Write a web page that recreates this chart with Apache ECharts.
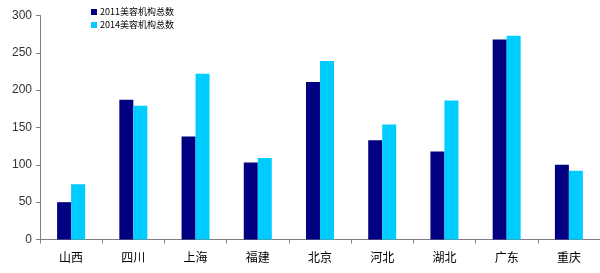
<!DOCTYPE html>
<html><head><meta charset="utf-8">
<script src="https://cdn.jsdelivr.net/npm/echarts@6/dist/echarts.min.js"></script>
<style>html,body{margin:0;padding:0;background:#fff}#c{width:600px;height:273px}</style>
</head><body><div id="c"></div>
<script>
var categories = ['山西','四川','上海','福建','北京','河北','湖北','广东','重庆'];
var series2011 = [50, 187, 138, 103, 211, 133, 118, 268, 100];
var series2014 = [74, 179, 222, 109, 239, 154, 186, 273, 92];
var yTicks = [0, 50, 100, 150, 200, 250, 300];
var names = ['2011美容机构总数', '2014美容机构总数'];

var chart = echarts.init(document.getElementById('c'));
chart.setOption({
  animation: false,
  grid: {left: 40, right: -6, top: 15.5, bottom: 33.5, containLabel: false},
  legend: {
    orient: 'vertical', left: 91, top: 7, itemWidth: 6, itemHeight: 6, itemGap: 3,
    icon: 'rect', padding: 0,
    textStyle: {fontSize: 9, lineHeight: 10, color: '#000', fontFamily: 'Noto Sans CJK SC', padding: [0,0,0,-2]},
    data: names
  },
  xAxis: {
    type: 'category', data: categories,
    axisLine: {lineStyle: {color: '#808080'}},
    axisTick: {show: true, length: 4, lineStyle: {color: '#808080'}},
    axisLabel: {fontSize: 12, color: '#000', margin: 12, fontFamily: 'Noto Sans CJK SC'}
  },
  yAxis: {
    type: 'value', min: 0, max: 300, interval: 50,
    axisLine: {show: true, lineStyle: {color: '#808080'}},
    axisTick: {show: true, length: 4, lineStyle: {color: '#808080'}},
    splitLine: {show: false},
    axisLabel: {fontSize: 12, color: '#333', margin: 8, fontFamily: 'Liberation Sans'}
  },
  series: [
    {name: names[0], type: 'bar', data: series2011, barGap: '0%', barCategoryGap: '55%', itemStyle: {color: '#000080'}},
    {name: names[1], type: 'bar', data: series2014, itemStyle: {color: '#00CCFF'}}
  ]
});
</script></body></html>
